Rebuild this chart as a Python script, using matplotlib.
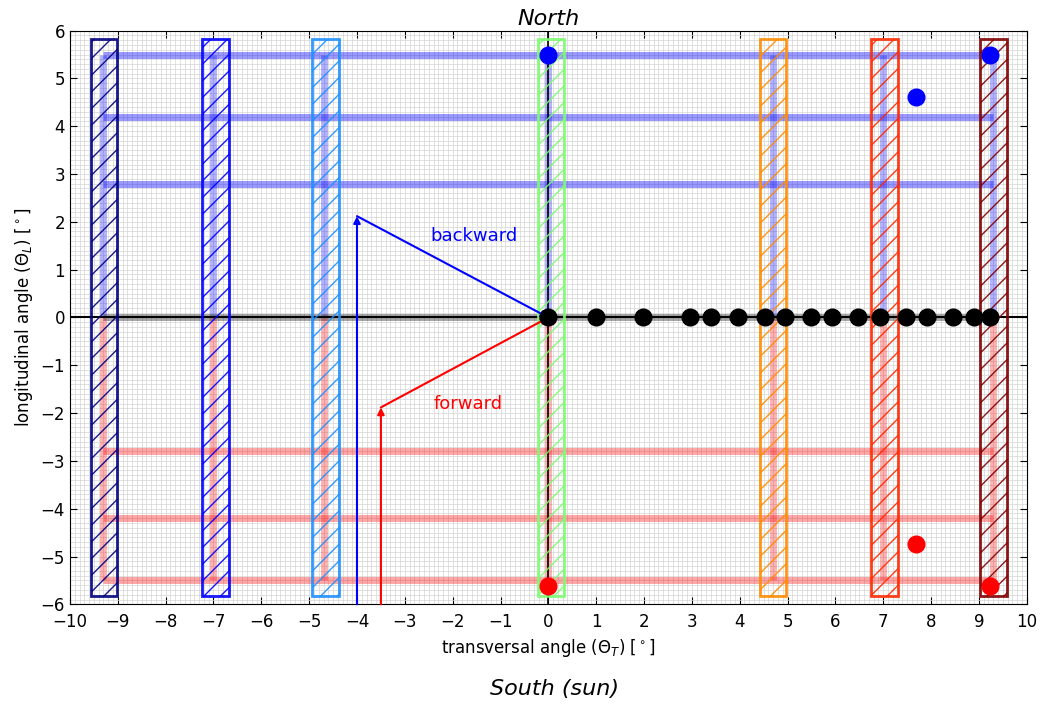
import numpy as np
import matplotlib
matplotlib.use("Agg")
import matplotlib.pyplot as plt
from matplotlib.patches import Rectangle
from matplotlib.ticker import MultipleLocator

# vertical positions of the bands (deg)
band_x = [-9.3, -7.0, -4.7, 0.0, 4.7, 7.0, 9.3]
band_y = [2.8, 4.2, 5.5]
band_top = 5.5

# hatched boxes: left edge, colour
box_left = [-9.57, -7.23, -4.93, -0.22, 4.42, 6.75, 9.03]
box_colors = ['#000080', '#0000ff', '#1e90ff', '#7cfc70', '#ff8c00', '#ff2a00', '#800000']
box_width = 0.55
box_y = (-5.83, 5.83)

# points along the transversal axis
dots_x = [0.0, 1.0, 1.98, 2.97, 3.40, 3.96, 4.52, 4.95, 5.5, 5.93, 6.47, 6.93, 7.48, 7.92, 8.46, 8.9, 9.23]
blue_x = [0.0, 7.69, 9.23]
blue_y = [5.5, 4.61, 5.5]
red_x = [0.0, 7.69, 9.23]
red_y = [-5.62, -4.74, -5.62]

# arrows
back_start = (-4.0, 2.12)
fwd_start = (-3.5, -1.88)

plt.rcParams['hatch.linewidth'] = 1.0

fig = plt.figure(figsize=(10.41, 7.05), dpi=100)
ax = fig.add_axes([0.0672, 0.1428, 0.9191, 0.8137])

ax.set_xlim(-10, 10)
ax.set_ylim(-6, 6)
ax.xaxis.set_major_locator(MultipleLocator(1))
ax.yaxis.set_major_locator(MultipleLocator(1))
ax.xaxis.set_minor_locator(MultipleLocator(0.1))
ax.yaxis.set_minor_locator(MultipleLocator(0.1))
ax.grid(which='both', color='#d4d4d4', linewidth=0.5, zorder=0)
ax.set_axisbelow(True)
ax.tick_params(which='major', direction='in', top=True, right=True, length=5, labelsize=12)
ax.tick_params(axis='x', pad=6.5)
ax.tick_params(which='minor', length=0)

# translucent bands
for y in band_y:
    ax.plot([-9.3, 9.3], [y, y], color='blue', lw=5, alpha=0.4, solid_capstyle='butt', zorder=2)
    ax.plot([-9.3, 9.3], [-y, -y], color='red', lw=5, alpha=0.35, solid_capstyle='butt', zorder=2)
for x in band_x:
    ax.plot([x, x], [0, band_top], color='blue', lw=5, alpha=0.3, solid_capstyle='butt', zorder=2)
    ax.plot([x, x], [0, -band_top], color='red', lw=5, alpha=0.3, solid_capstyle='butt', zorder=2)
ax.plot([-9.3, 9.3], [0, 0], color='black', lw=5, alpha=0.35, solid_capstyle='butt', zorder=2)

ax.axhline(0, color='black', lw=1.5, zorder=3)
ax.axvline(0, color='black', lw=1.2, zorder=3)

# hatched boxes
for left, c in zip(box_left, box_colors):
    r = Rectangle((left, box_y[0]), box_width, box_y[1] - box_y[0], fill=False,
                  edgecolor=c, hatch='//', lw=2, alpha=0.9, zorder=4)
    ax.add_patch(r)

# arrows
arrow_kw = dict(arrowstyle='-|>', lw=1.5, mutation_scale=10, shrinkA=0, shrinkB=0)
ax.annotate('', xy=back_start, xytext=(back_start[0], -6),
            arrowprops=dict(color='blue', **arrow_kw), zorder=5)
ax.annotate('', xy=(0, 0), xytext=back_start,
            arrowprops=dict(color='blue', **arrow_kw), zorder=5)
ax.annotate('', xy=fwd_start, xytext=(fwd_start[0], -6),
            arrowprops=dict(color='red', **arrow_kw), zorder=5)
ax.annotate('', xy=(0, 0), xytext=fwd_start,
            arrowprops=dict(color='red', **arrow_kw), zorder=5)
ax.text(-1.55, 1.7, 'backward', color='blue', fontsize=13, ha='center', va='center', zorder=6)
ax.text(-1.68, -1.8, 'forward', color='red', fontsize=13, ha='center', va='center', zorder=6)

# points
ax.plot(dots_x, np.zeros(len(dots_x)), 'o', color='black', ms=12, zorder=7)
ax.plot(blue_x, blue_y, 'o', color='blue', mec='blue', ms=12, zorder=7)
ax.plot(red_x, red_y, 'o', color='red', mec='red', ms=12, zorder=7)

ax.set_xlabel(r'transversal angle ($\Theta_T$) [$^\circ$]', fontsize=12)
ax.set_ylabel(r'longitudinal angle ($\Theta_L$) [$^\circ$]', fontsize=12)
ax.set_title('North', fontsize=16, style='italic', pad=4)
fig.text(0.533, 0.022, 'South (sun)', fontsize=16, style='italic', ha='center', va='center')

fig.savefig('out.png', dpi=100)
